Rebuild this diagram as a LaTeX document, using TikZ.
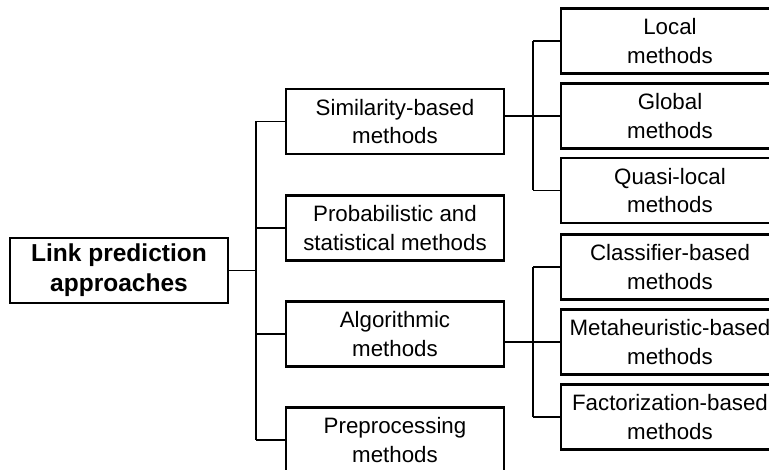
\documentclass[tikz,border=0pt]{standalone}
\usepackage{fontspec}
\setmainfont{Liberation Sans}
\begin{document}
\begin{tikzpicture}[x=1pt,y=-1pt,
  box/.style={draw, line width=2.2pt, minimum width=218pt, minimum height=65pt,
    align=center, inner sep=0pt, font=\fontsize{22.3}{28.5}\selectfont},
  rootbox/.style={box, font=\bfseries\fontsize{24.5}{30}\selectfont},
  link/.style={line width=1.1pt}]
\useasboundingbox (0,0) rectangle (769,470);
\clip (0,0) rectangle (769,470);
\fill[white] (0,0) rectangle (769,470);
% main column
\node[rootbox] (root) at (119,270.5) {Link prediction\\approaches};
\node[box] (sim)  at (395,121.5) {Similarity-based\\methods};
\node[box] (prob) at (395,228)   {Probabilistic and\\statistical methods};
\node[box] (alg)  at (395,334)   {Algorithmic\\methods};
\node[box] (prep) at (395,440)   {Preprocessing\\methods};
% right column
\node[box] (loc)  at (670,41)    {Local\\methods};
\node[box] (glob) at (670,116)   {Global\\methods};
\node[box] (quas) at (670,190.5) {Quasi-local\\methods};
\node[box] (cls)  at (670,267)   {Classifier-based\\methods};
\node[box] (meta) at (670,342)   {Metaheuristic-based\\methods};
\node[box] (fact) at (670,417)   {Factorization-based\\methods};
% trunk
\coordinate (t1) at (256,0);
\coordinate (t2) at (533,0);
\draw[link] (root.east) -- (t1 |- root.east);
\draw[link] (t1 |- sim.west) -- (t1 |- prep.west);
\foreach \n in {sim,prob,alg,prep} \draw[link] (t1 |- \n.west) -- (\n.west);
% sub trunks
\draw[link] (t2 |- loc.west) -- (t2 |- quas.west);
\draw[link] (sim.east |- glob.west) -- (glob.west);
\foreach \n in {loc,quas} \draw[link] (t2 |- \n.west) -- (\n.west);
\draw[link] (t2 |- cls.west) -- (t2 |- fact.west);
\draw[link] (alg.east |- meta.west) -- (meta.west);
\foreach \n in {cls,fact} \draw[link] (t2 |- \n.west) -- (\n.west);
\end{tikzpicture}
\end{document}
